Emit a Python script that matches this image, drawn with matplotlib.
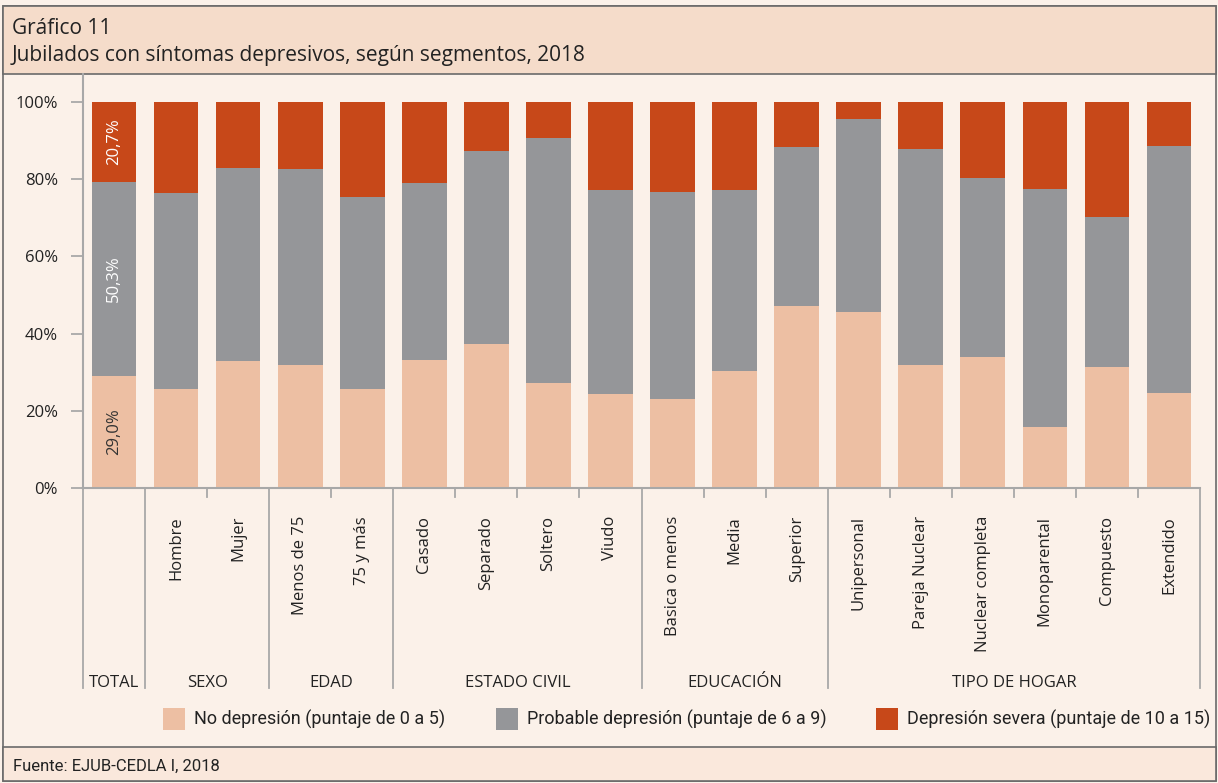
import matplotlib
matplotlib.use("Agg")
import matplotlib.pyplot as plt
from matplotlib.patches import Rectangle
import matplotlib.transforms as mtransforms

categories = ["", "Hombre", "Mujer", "Menos de 75", "75 y más", "Casado", "Separado",
              "Soltero", "Viudo", "Basica o menos", "Media", "Superior", "Unipersonal",
              "Pareja Nuclear", "Nuclear completa", "Monoparental", "Compuesto", "Extendido"]
no_depresion = [29.0, 25.6, 32.9, 31.9, 25.6, 33.2, 37.3, 27.2, 24.4, 23.1, 30.3, 47.2,
                45.6, 31.9, 33.9, 15.8, 31.3, 24.6]
probable = [50.3, 50.9, 50.1, 50.8, 49.9, 45.9, 50.1, 63.5, 52.8, 53.6, 46.9, 41.1,
            50.0, 55.9, 46.4, 61.7, 38.9, 64.0]
severa = [100 - a - b for a, b in zip(no_depresion, probable)]
severa[0] = 20.7
groups = ["TOTAL", "SEXO", "EDAD", "ESTADO CIVIL", "EDUCACIÓN", "TIPO DE HOGAR"]
group_sizes = [1, 2, 2, 4, 3, 6]
legend_labels = ["No depresión (puntaje de 0 a 5)", "Probable depresión (puntaje de 6 a 9)",
                 "Depresión severa (puntaje de 10 a 15)"]

c_no = "#EDBFA3"
c_prob = "#959699"
c_sev = "#C74819"
bg = "#FBF1E9"
line_c = "#A8A8A8"
font = "Open Sans"
narrow = "Roboto"

W, H = 1218, 783
fig = plt.figure(figsize=(W / 100, H / 100), dpi=100)
fig.patch.set_facecolor(bg)

def fx(px):
    return px / W

def fy(py):
    return 1 - py / H

# frame, header and footer (kept behind the axes)
fig.add_artist(Rectangle((fx(3), fy(781)), fx(1213), 775 / H, transform=fig.transFigure,
                         facecolor=bg, edgecolor="#6A6A6A", lw=1.2, zorder=-10))
fig.add_artist(Rectangle((fx(3), fy(74)), fx(1213), 68 / H, transform=fig.transFigure,
                         facecolor="#F5DCCA", edgecolor="#6A6A6A", lw=1.2, zorder=-9))
fig.add_artist(Rectangle((fx(3), fy(781)), fx(1213), 34 / H, transform=fig.transFigure,
                         facecolor="#FAE8DC", edgecolor="#6A6A6A", lw=1.2, zorder=-9))
fig.text(fx(12), fy(29), "Gráfico 11", fontsize=15, family=font, color="#222222", va="center")
fig.text(fx(12), fy(56), "Jubilados con síntomas depresivos, según segmentos, 2018",
         fontsize=15, family=font, color="#222222", va="center")
fig.text(fx(13), fy(766), "Fuente: EJUB-CEDLA I, 2018", fontsize=12, family=narrow,
         color="#222222", va="center")

ax = fig.add_axes([fx(83), fy(488), fx(1200) - fx(83), (488 - 74) / H])
ax.set_facecolor("none")
x = list(range(len(categories)))
p_no = [v / 100 for v in no_depresion]
p_prob = [v / 100 for v in probable]
p_sev = [v / 100 for v in severa]
bot2 = [a + b for a, b in zip(p_no, p_prob)]
ax.bar(x, p_no, width=0.72, color=c_no)
ax.bar(x, p_prob, width=0.72, bottom=p_no, color=c_prob)
ax.bar(x, p_sev, width=0.72, bottom=bot2, color=c_sev)

# labels for TOTAL bar
ax.text(0, p_no[0] / 2, f"{no_depresion[0]:.1f}%".replace(".", ","), rotation=90,
        ha="center", va="center", color="#333333", fontsize=12, family=font)
ax.text(0, p_no[0] + p_prob[0] / 2, f"{probable[0]:.1f}%".replace(".", ","), rotation=90,
        ha="center", va="center", color="white", fontsize=12, family=font)
ax.text(0, bot2[0] + (1 - bot2[0]) / 2, f"{severa[0]:.1f}%".replace(".", ","), rotation=90,
        ha="center", va="center", color="white", fontsize=12, family=font)

ax.set_xlim(-0.5, len(categories) - 0.5)
ax.set_ylim(0, 1.0726)
ax.set_yticks([0, 0.2, 0.4, 0.6, 0.8, 1.0])
ax.set_yticklabels(["0%", "20%", "40%", "60%", "80%", "100%"], family=font, fontsize=12,
                   color="#222222")
ax.tick_params(axis="y", length=9, width=1.3, color=line_c, pad=9)
ax.set_xticks([])
for s in ["top", "right"]:
    ax.spines[s].set_visible(False)
ax.spines["left"].set_color(line_c)
ax.spines["left"].set_linewidth(1.5)
ax.spines["bottom"].set_color(line_c)
ax.spines["bottom"].set_linewidth(1.5)

# category area below the axis
trans = mtransforms.blended_transform_factory(ax.transData, ax.transAxes)
ax_h = 488 - 74
sep_depth = -(688 - 488) / ax_h
tick_depth = -(497 - 488) / ax_h
seps = [-0.5]
pos = -0.5
for n in group_sizes:
    pos += n
    seps.append(pos)
for i in range(len(categories) + 1):
    xp = i - 0.5
    depth = sep_depth if xp in seps else tick_depth
    ax.plot([xp, xp], [0, depth], color=line_c, lw=1.3, transform=trans, clip_on=False)
for i, lab in enumerate(categories):
    ax.text(i, -(516 - 488) / ax_h, lab, rotation=90, ha="center", va="top",
            transform=trans, fontsize=12, family=font, color="#222222")
for g, a, b in zip(groups, seps[:-1], seps[1:]):
    ax.text((a + b) / 2, -(683 - 488) / ax_h, g, ha="center", va="center",
            transform=trans, fontsize=12, family=font, color="#222222")

# legend
leg_x = [163, 496, 876]
for lx, col, lab in zip(leg_x, [c_no, c_prob, c_sev], legend_labels):
    fig.add_artist(Rectangle((fx(lx), fy(730)), fx(22), 22 / H, transform=fig.transFigure,
                             facecolor=col, edgecolor="none"))
    fig.text(fx(lx + 31), fy(719), lab, fontsize=13, family=narrow, color="#222222",
             va="center")

fig.savefig("out.png", dpi=100, facecolor=bg)
